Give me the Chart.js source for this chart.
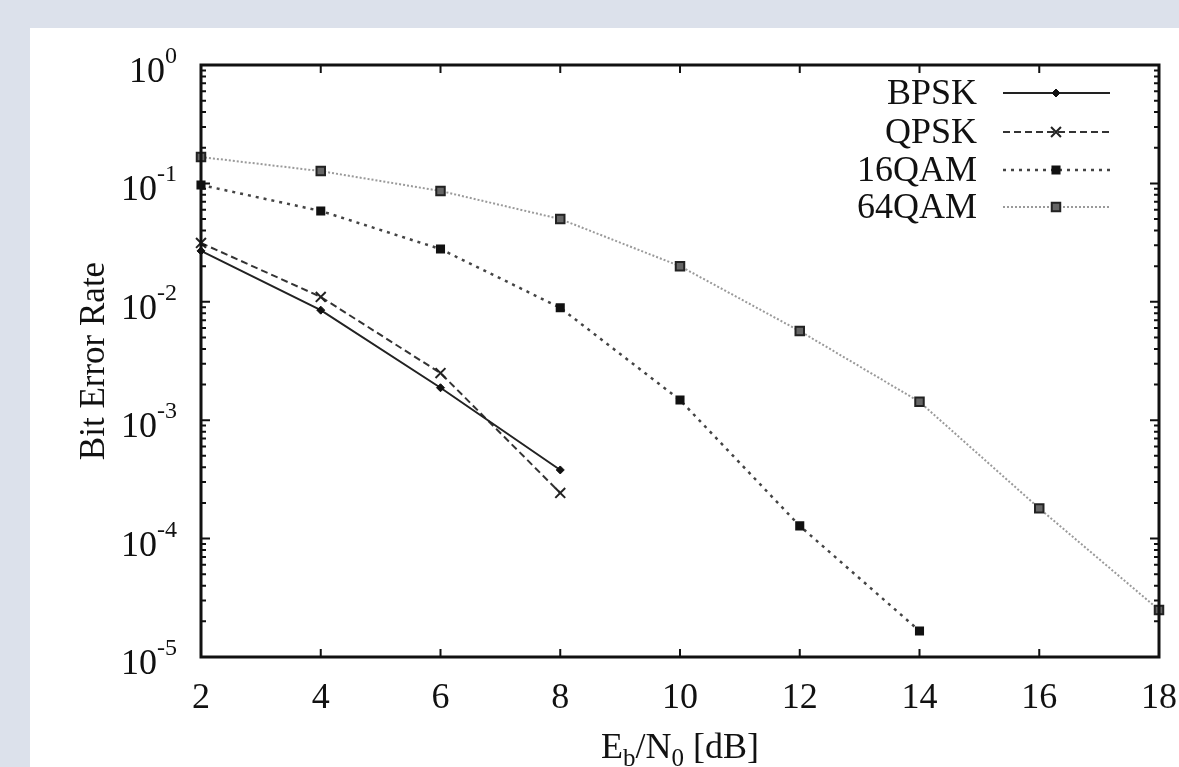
<!DOCTYPE html>
<html>
<head>
<meta charset="utf-8">
<script src="https://cdn.jsdelivr.net/npm/chart.js@4/dist/chart.umd.min.js"></script>
<style>
  body { margin: 0; background: #dce1eb; }
  canvas { display: block; }
</style>
</head>
<body>
<canvas id="berChart" width="1179" height="767"></canvas>
<script>
// Eb/N0 points (dB)
const ebn0 = [2, 4, 6, 8, 10, 12, 14, 16, 18];
// bit error rates
const bpsk = [0.0269, 0.0085, 0.00188, 0.00038];
const qpsk = [0.0314, 0.011, 0.0025, 0.000243];
const qam16 = [0.097, 0.0585, 0.0279, 0.0089, 0.00148, 0.000128, 0.0000166];
const qam64 = [0.167, 0.127, 0.0863, 0.05, 0.02, 0.00566, 0.00143, 0.00018, 0.000025];
const seriesNames = ["BPSK", "QPSK", "16QAM", "64QAM"];
const yTickExponents = [0, -1, -2, -3, -4, -5];

const serif = "'Liberation Serif', 'DejaVu Serif', serif";

function pts(vals) {
  return vals.map((v, i) => ({ x: ebn0[i], y: v }));
}

// page background + white card
const backdrop = {
  id: "backdrop",
  beforeDraw(chart) {
    const c = chart.ctx;
    c.save();
    c.fillStyle = "#dce1eb";
    c.fillRect(0, 0, chart.width, chart.height);
    c.fillStyle = "#ffffff";
    c.fillRect(30, 28, chart.width - 30, chart.height - 28);
    c.restore();
  }
};

// frame, inward ticks, y labels with exponents, axis titles, legend
const decorations = {
  id: "decorations",
  afterDraw(chart) {
    const c = chart.ctx;
    const a = chart.chartArea;
    const xs = chart.scales.x, ys = chart.scales.y;
    c.save();
    c.strokeStyle = "#111";
    c.fillStyle = "#111";

    // ticks on all four sides
    c.lineWidth = 2;
    c.beginPath();
    for (let e = -5; e < 0; e++) {
      for (let m = 1; m <= 9; m++) {
        const v = m * Math.pow(10, e);
        const py = ys.getPixelForValue(v);
        const len = m === 1 ? 9 : 5;
        c.moveTo(a.left, py); c.lineTo(a.left + len, py);
        c.moveTo(a.right, py); c.lineTo(a.right - len, py);
      }
    }
    ebn0.forEach(v => {
      const px = xs.getPixelForValue(v);
      c.moveTo(px, a.bottom); c.lineTo(px, a.bottom - 8);
      c.moveTo(px, a.top); c.lineTo(px, a.top + 8);
    });
    c.stroke();

    // frame
    c.lineWidth = 3;
    c.strokeRect(a.left, a.top, a.right - a.left, a.bottom - a.top);

    // y tick labels 10^k
    yTickExponents.forEach(k => {
      const py = ys.getPixelForValue(Math.pow(10, k));
      const exp = k === 0 ? "0" : "-" + (-k);
      c.font = "24px " + serif;
      const ew = c.measureText(exp).width;
      const right = 177;
      c.textAlign = "left";
      c.textBaseline = "alphabetic";
      c.fillText(exp, right - ew, py - 2);
      c.font = "36px " + serif;
      c.textAlign = "right";
      c.fillText("10", right - ew, py + 17);
    });

    // y title
    c.save();
    c.translate(104, (a.top + a.bottom) / 2);
    c.rotate(-Math.PI / 2);
    c.font = "35px " + serif;
    c.textAlign = "center";
    c.textBaseline = "alphabetic";
    c.fillText("Bit Error Rate", 0, 0);
    c.restore();

    // x title E_b/N_0 [dB]
    const parts = [
      ["E", 36, 0], ["b", 25, 8], ["/N", 36, 0], ["0", 25, 8], [" [dB]", 36, 0]
    ];
    let total = 0;
    parts.forEach(p => { c.font = p[1] + "px " + serif; total += c.measureText(p[0]).width; });
    let cx = 680 - total / 2;
    const base = 758;
    c.textAlign = "left";
    parts.forEach(p => {
      c.font = p[1] + "px " + serif;
      c.fillText(p[0], cx, base + p[2]);
      cx += c.measureText(p[0]).width;
    });

    // legend
    const legendY = [93, 132, 170, 207];
    chart.data.datasets.forEach((ds, i) => {
      const y = legendY[i];
      c.font = "36px " + serif;
      c.textAlign = "right";
      c.textBaseline = "middle";
      c.fillStyle = "#111";
      c.fillText(ds.label, 977, y + 2);
      c.save();
      c.strokeStyle = ds.borderColor;
      c.lineWidth = ds.borderWidth;
      c.setLineDash(ds.borderDash || []);
      c.beginPath();
      c.moveTo(1003, y); c.lineTo(1110, y);
      c.stroke();
      c.setLineDash([]);
      c.fillStyle = ds.pointBackgroundColor;
      c.strokeStyle = ds.pointBorderColor;
      c.lineWidth = ds.pointBorderWidth;
      Chart.helpers.drawPoint(c, {
        pointStyle: ds.pointStyle, radius: ds.pointRadius, rotation: 0, borderWidth: ds.pointBorderWidth
      }, 1056, y);
      c.restore();
    });
    c.restore();
  }
};

new Chart(document.getElementById("berChart"), {
  type: "line",
  data: {
    datasets: [
      {
        label: seriesNames[0], data: pts(bpsk),
        borderColor: "#222", borderWidth: 2,
        pointStyle: "rectRot", pointRadius: 4,
        pointBackgroundColor: "#111", pointBorderColor: "#111", pointBorderWidth: 1
      },
      {
        label: seriesNames[1], data: pts(qpsk),
        borderColor: "#333", borderWidth: 2, borderDash: [7, 4],
        pointStyle: "crossRot", pointRadius: 7,
        pointBackgroundColor: "#222", pointBorderColor: "#222", pointBorderWidth: 2
      },
      {
        label: seriesNames[2], data: pts(qam16),
        borderColor: "#444", borderWidth: 2.5, borderDash: [3, 5],
        pointStyle: "rect", pointRadius: 5,
        pointBackgroundColor: "#111", pointBorderColor: "#111", pointBorderWidth: 2
      },
      {
        label: seriesNames[3], data: pts(qam64),
        borderColor: "#9a9a9a", borderWidth: 2, borderDash: [2, 2],
        pointStyle: "rect", pointRadius: 6,
        pointBackgroundColor: "#666", pointBorderColor: "#222", pointBorderWidth: 2
      }
    ]
  },
  options: {
    responsive: false,
    animation: false,
    layout: { padding: { left: 0, top: 65, right: 20, bottom: 0 } },
    elements: { line: { tension: 0 } },
    datasets: { line: { clip: false } },
    plugins: { legend: { display: false }, tooltip: { enabled: false } },
    scales: {
      x: {
        type: "linear", min: 2, max: 18,
        ticks: { stepSize: 2, color: "#111", font: { family: serif, size: 36 }, padding: 20, maxRotation: 0 },
        grid: { display: false, drawTicks: false },
        border: { display: false },
        afterFit(scale) {
          scale.height = 110;
          scale.paddingLeft = 0;
          scale.paddingRight = 0;
        }
      },
      y: {
        type: "logarithmic", min: 1e-5, max: 1,
        ticks: { display: false },
        grid: { display: false, drawTicks: false },
        border: { display: false },
        afterFit(scale) { scale.width = 201; }
      }
    }
  },
  plugins: [backdrop, decorations]
});
</script>
</body>
</html>
